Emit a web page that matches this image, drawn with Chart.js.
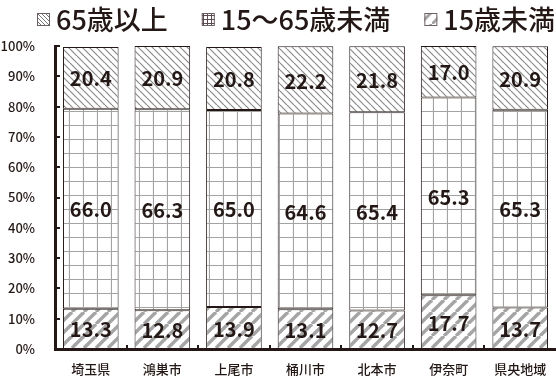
<!DOCTYPE html>
<html><head><meta charset="utf-8">
<script src="https://cdn.jsdelivr.net/npm/chart.js@4.4.1/dist/chart.umd.min.js"></script>
<style>html,body{margin:0;padding:0;background:#fff;overflow:hidden}#wrap{width:556px;height:378px;position:relative}</style>
</head><body><div id="wrap"><canvas id="c"></canvas></div>
<script>
const categories = ['埼玉県','鴻巣市','上尾市','桶川市','北本市','伊奈町','県央地域'];
const under15 = [13.3, 12.8, 13.9, 13.1, 12.7, 17.7, 13.7];
const age15to65 = [66.0, 66.3, 65.0, 64.6, 65.4, 65.3, 65.3];
const over65 = [20.4, 20.9, 20.8, 22.2, 21.8, 17.0, 20.9];
const seriesNames = ['15歳未満', '15～65歳未満', '65歳以上'];
const legendOrder = [2, 1, 0];

const INK = '#231815';
const FONT = "'Noto Sans CJK JP', 'Noto Sans', sans-serif";

function tile(size, draw) {
  const c = document.createElement('canvas');
  c.width = size; c.height = size;
  const g = c.getContext('2d');
  g.fillStyle = '#fff'; g.fillRect(0, 0, size, size);
  draw(g, size);
  return document.getElementById('c').getContext('2d').createPattern(c, 'repeat');
}
const patBack = tile(7, (g, s) => {
  g.strokeStyle = '#8a8a8a'; g.lineWidth = 1.2;
  for (let k = -1; k <= 1; k++) { g.beginPath(); g.moveTo(k * s, 0); g.lineTo(k * s + s, s); g.stroke(); }
});
const patGrid = tile(14, (g, s) => {
  g.strokeStyle = '#a3a3a3'; g.lineWidth = 1.2;
  g.beginPath(); g.moveTo(s - 0.5, 0); g.lineTo(s - 0.5, s); g.moveTo(0, s - 0.5); g.lineTo(s, s - 0.5); g.stroke();
});
const patSlash = tile(12, (g, s) => {
  g.strokeStyle = '#a5a5a5'; g.lineWidth = 3.4;
  for (let k = -1; k <= 1; k++) { g.beginPath(); g.moveTo(k * s, s); g.lineTo(k * s + s, 0); g.stroke(); }
});
const legPats = [
  tile(12, (g, s) => { g.strokeStyle = '#a5a5a5'; g.lineWidth = 3; g.beginPath(); g.moveTo(0, s); g.lineTo(s, 0); g.stroke(); }),
  tile(4, (g, s) => { g.strokeStyle = '#5a4a52'; g.lineWidth = 1; g.beginPath(); g.moveTo(s - 0.5, 0); g.lineTo(s - 0.5, s); g.moveTo(0, s - 0.5); g.lineTo(s, s - 0.5); g.stroke(); }),
  tile(4, (g, s) => { g.strokeStyle = '#777'; g.lineWidth = 1; for (let k = -1; k <= 1; k++) { g.beginPath(); g.moveTo(k * s, 0); g.lineTo(k * s + s, s); g.stroke(); } })
];

const valueLabels = {
  id: 'valueLabels',
  afterDatasetsDraw(chart) {
    const ctx = chart.ctx;
    ctx.save();
    ctx.font = 'bold 20px ' + FONT;
    ctx.fillStyle = INK;
    ctx.textAlign = 'center';
    ctx.textBaseline = 'middle';
    chart.data.datasets.forEach((ds, i) => {
      chart.getDatasetMeta(i).data.forEach((el, j) => {
        const p = el.getProps(['x', 'y', 'base'], true);
        ctx.fillText(ds.data[j].toFixed(1), p.x, (p.y + p.base) / 2 + 1);
      });
    });
    ctx.restore();
  }
};

const innerTicks = {
  id: 'innerTicks',
  afterDraw(chart) {
    const ctx = chart.ctx, y = chart.scales.y, x = chart.scales.x, a = chart.chartArea;
    ctx.save();
    ctx.strokeStyle = INK; ctx.lineWidth = 2;
    ctx.beginPath();
    y.ticks.forEach(t => { const py = Math.round(y.getPixelForValue(t.value)); ctx.moveTo(a.left, py); ctx.lineTo(a.left + 5, py); });
    for (let i = 1; i < categories.length; i++) {
      const px = Math.round((x.getPixelForValue(i - 1) + x.getPixelForValue(i)) / 2);
      ctx.moveTo(px, a.bottom); ctx.lineTo(px, a.bottom - 4);
    }
    ctx.stroke();
    ctx.restore();
  }
};

const customLegend = {
  id: 'customLegend',
  afterDraw(chart) {
    const ctx = chart.ctx;
    ctx.save();
    ctx.font = '500 27px ' + FONT;
    ctx.textBaseline = 'middle';
    ctx.fillStyle = INK;
    let x = 37;
    const boxTop = 13, box = 13;
    legendOrder.forEach((di, n) => {
      ctx.fillStyle = legPats[di];
      ctx.fillRect(x, boxTop, box, box);
      ctx.strokeStyle = '#6b5f63'; ctx.lineWidth = 1;
      ctx.strokeRect(x + 0.5, boxTop + 0.5, box - 1, box - 1);
      ctx.fillStyle = INK;
      const tx = x + box + 6;
      ctx.fillText(seriesNames[di], tx, 20);
      x = tx + ctx.measureText(seriesNames[di]).width + 34;
    });
    ctx.restore();
  }
};

new Chart(document.getElementById('c'), {
  type: 'bar',
  data: {
    labels: categories,
    datasets: [
      { label: seriesNames[0], data: under15, backgroundColor: patSlash },
      { label: seriesNames[1], data: age15to65, backgroundColor: patGrid },
      { label: seriesNames[2], data: over65, backgroundColor: patBack }
    ]
  },
  options: {
    responsive: true, maintainAspectRatio: false, animation: false,
    layout: { padding: { left: 0, right: -4, top: 46, bottom: 0 } },
    datasets: { bar: { borderColor: INK, borderWidth: 1, borderSkipped: false, categoryPercentage: 1, barPercentage: 0.777 } },
    plugins: { legend: { display: false }, tooltip: { enabled: false } },
    scales: {
      x: {
        stacked: true,
        grid: { display: false },
        border: { display: true, color: INK, width: 3 },
        ticks: { color: INK, font: { family: FONT, size: 13, weight: '500', lineHeight: 1.2 }, padding: 4, maxRotation: 0 },
        afterFit: s => { s.height = 29; }
      },
      y: {
        stacked: true, min: 0, max: 100,
        grid: { display: false },
        border: { display: true, color: INK, width: 3 },
        ticks: { stepSize: 10, color: INK, font: { family: FONT, size: 13, weight: '500' }, padding: 12, callback: v => v + '%' },
        afterFit: s => { s.width = 55; }
      }
    }
  },
  plugins: [valueLabels, innerTicks, customLegend]
});
</script></body></html>
